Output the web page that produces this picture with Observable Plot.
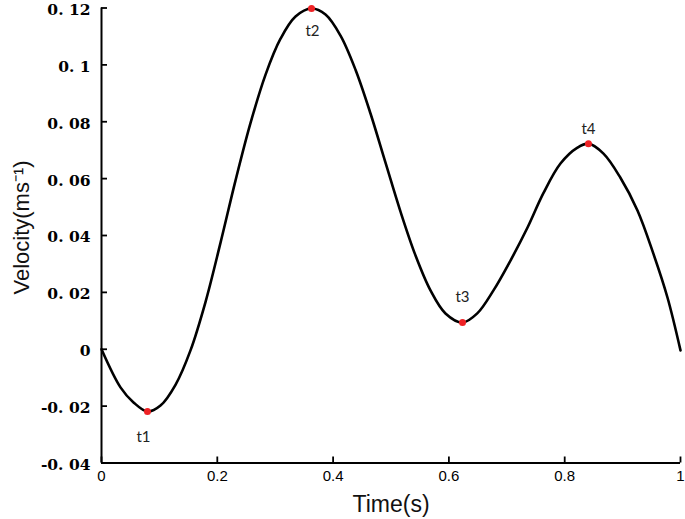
<!DOCTYPE html>
<html>
<head>
<meta charset="utf-8">
<script src="https://cdn.jsdelivr.net/npm/d3@7"></script>
<script src="https://cdn.jsdelivr.net/npm/@observablehq/plot@0.6"></script>
<style>
  body { margin: 0; background: #fff; }
  #chart svg { display: block; background: #fff; }
</style>
</head>
<body>
<div id="chart"></div>
<script>
// Curve samples
const time = [0, 0.0328, 0.0553, 0.0794, 0.1019, 0.1278, 0.1537, 0.1796, 0.2055, 0.2314, 0.2573, 0.2832, 0.3092, 0.3351, 0.3627, 0.3869, 0.4128, 0.4387, 0.4646, 0.4905, 0.5164, 0.5423, 0.5682, 0.5941, 0.6235, 0.649, 0.677, 0.7064, 0.7358, 0.763, 0.7927, 0.822, 0.841, 0.867, 0.896, 0.9257, 0.953, 0.9775, 1.0];
const velocity = [0, -0.0134, -0.0187, -0.0219, -0.0198, -0.0125, -0.0004, 0.0166, 0.0374, 0.0593, 0.0795, 0.0965, 0.1092, 0.1170, 0.1198, 0.1177, 0.1103, 0.0983, 0.0829, 0.0656, 0.0484, 0.0330, 0.0207, 0.0126, 0.0094, 0.0126, 0.0207, 0.0312, 0.0428, 0.0548, 0.0653, 0.0709, 0.0723, 0.0688, 0.0604, 0.0488, 0.0337, 0.0182, -0.0004];

// Marked extrema
const peakLabels = ["t1", "t2", "t3", "t4"];
const peakTime = [0.0794, 0.3627, 0.6235, 0.841];
const peakVelocity = [-0.0219, 0.1198, 0.0094, 0.0723];

// Axes
const xTicks = [0, 0.2, 0.4, 0.6, 0.8, 1];
const xTickLabels = ["0", "0.2", "0.4", "0.6", "0.8", "1"];
const yTicks = [-0.04, -0.02, 0, 0.02, 0.04, 0.06, 0.08, 0.1, 0.12];
const yTickLabels = ["-0. 04", "-0. 02", "0", "0. 02", "0. 04", "0. 06", "0. 08", "0. 1", "0. 12"];
const xLabel = "Time(s)";
const yLabel = "Velocity(ms\u207B\u00B9)";

const curve = time.map((t, i) => ({t, v: velocity[i]}));
const peaks = peakLabels.map((name, i) => ({name, t: peakTime[i], v: peakVelocity[i]}));

const labelFont = "Lato, 'Open Sans', sans-serif";

const chart = Plot.plot({
  width: 685,
  height: 519,
  marginLeft: 101,
  marginRight: 5,
  marginTop: 7.5,
  marginBottom: 56.5,
  style: {fontFamily: "'Liberation Sans', Arial, sans-serif", color: "#000", background: "#fff"},
  x: {domain: [0, 1]},
  y: {domain: [-0.04, 0.12]},
  marks: [
    Plot.axisX({
      ticks: xTicks,
      tickFormat: d => xTickLabels[xTicks.indexOf(d)],
      tickSize: -6,
      tickPadding: 13,
      strokeWidth: 1.8,
      fontSize: 15,
      fontFamily: "'Liberation Sans', Arial, sans-serif",
      label: null
    }),
    Plot.axisY({
      ticks: yTicks,
      tickFormat: d => yTickLabels[yTicks.indexOf(d)],
      tickSize: -6,
      tickPadding: 17,
      strokeWidth: 1.8,
      fontSize: 15.5,
      fontWeight: "bold",
      fontFamily: "'DejaVu Serif', serif",
      label: null
    }),
    Plot.ruleX([0], {stroke: "#000", strokeWidth: 2}),
    Plot.ruleY([-0.04], {stroke: "#000", strokeWidth: 2}),
    Plot.line(curve, {x: "t", y: "v", curve: "catmull-rom", stroke: "#000", strokeWidth: 2.6}),
    Plot.dot(peaks, {x: "t", y: "v", r: 3.5, fill: "#ee2225", stroke: null}),
    Plot.text(peaks.filter(d => d.name === "t1"), {x: "t", y: "v", text: "name", dx: -4, dy: 26, fontSize: 15, fontFamily: labelFont, fill: "#222"}),
    Plot.text(peaks.filter(d => d.name === "t2"), {x: "t", y: "v", text: "name", dx: 1, dy: 23, fontSize: 15, fontFamily: labelFont, fill: "#222"}),
    Plot.text(peaks.filter(d => d.name === "t3"), {x: "t", y: "v", text: "name", dy: -25, fontSize: 15, fontFamily: labelFont, fill: "#222"}),
    Plot.text(peaks.filter(d => d.name === "t4"), {x: "t", y: "v", text: "name", dy: -14, fontSize: 15, fontFamily: labelFont, fill: "#222"}),
    Plot.text([xLabel], {frameAnchor: "bottom", text: d => d, textAnchor: "middle", lineAnchor: "middle", dy: 42, fontSize: 23, fill: "#111"}),
    Plot.text([yLabel], {frameAnchor: "left", text: d => d, textAnchor: "middle", lineAnchor: "middle", rotate: -90, dx: -80, dy: -8, fontSize: 22, fill: "#111"})
  ]
});
// nudge the y tick labels slightly below their ticks, as in the reference
chart.querySelectorAll('[aria-label="y-axis tick label"] text').forEach(t => {
  t.setAttribute("transform", (t.getAttribute("transform") || "") + " translate(0,2)");
});
document.getElementById("chart").appendChild(chart);
</script>
</body>
</html>
